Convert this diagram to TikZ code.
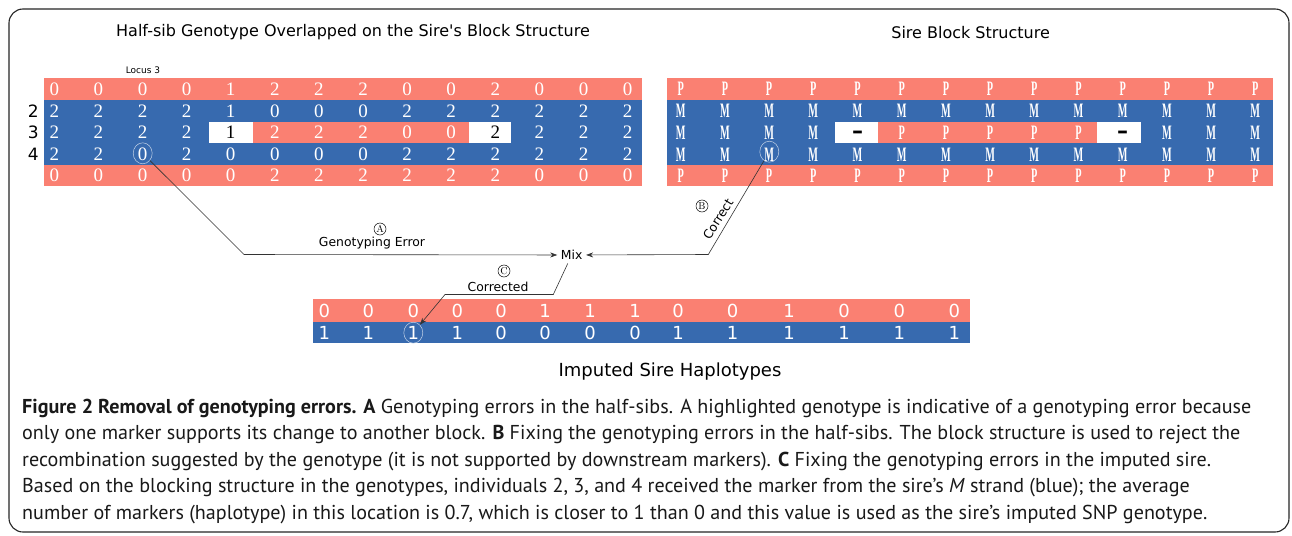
\documentclass[tikz,border=0pt]{standalone}
\usepackage{fontspec}
\newfontfamily\dejavu{DejaVu Sans}
\newfontfamily\capfont{PT Sans}
\newfontfamily\gridfont{Liberation Serif}
\usetikzlibrary{positioning,shapes.geometric,arrows.meta}
\definecolor{salmonred}{RGB}{250,128,114}
\definecolor{blockblue}{RGB}{55,106,175}
\newcommand{\squeeze}[1]{\scalebox{0.5}[1]{\fontsize{20.5}{20.5}\selectfont\bfseries #1}}
\tikzset{
  cell/.style={text=white, inner sep=0pt, font=\gridfont\fontsize{19}{19}\selectfont},
  hapcell/.style={text=white, inner sep=0pt, font=\dejavu\fontsize{18}{18}\selectfont},
  ringed/.style={draw=white!70!blockblue, ellipse, minimum width=19pt, minimum height=21pt, inner sep=0pt, line width=0.5pt},
  tag/.style={circle, draw, line width=0.5pt, minimum size=12pt, inner sep=0pt, font=\fontsize{10}{10}\selectfont},
  lbl/.style={font=\dejavu\fontsize{12.4}{12.4}\selectfont},
  conn/.style={draw=black!80, line width=0.6pt},
  capline/.style={anchor=base west, inner sep=0pt, text=black!90, font=\capfont\fontsize{20.1}{20.1}\selectfont}
}
\begin{document}
\begin{tikzpicture}[x=1pt, y=-1pt]
  \useasboundingbox (0,0) rectangle (1292,535);
  \fill[white] (0,0) rectangle (1292,535);
  \draw[line width=1.1pt, rounded corners=14pt, black!85] (9,9) rectangle (1289,532);

  % titles
  \node[font=\dejavu\fontsize{16}{16}\selectfont] (title-hs) at (353,32) {Half-sib Genotype Overlapped on the Sire\textquotesingle s Block Structure};
  \node[font=\dejavu\fontsize{16}{16}\selectfont] (title-sb) at (970.6,33) {Sire Block Structure};
  \node[font=\dejavu\fontsize{9}{9}\selectfont] (locus) at (143,70.7) {Locus 3};

  % half-sib genotypes on the sire blocks
  \fill[salmonred] (44,78) rectangle (642,100);
  \fill[blockblue] (44,100) rectangle (642,165);
  \fill[salmonred] (44,165) rectangle (642,186);
  \fill[white] (209,122) rectangle (252.5,143.3);
  \fill[salmonred] (252.5,122) rectangle (469,143.3);
  \fill[white] (469,122) rectangle (511,143.3);
  \foreach \lab/\y in {2/111, 3/132.7, 4/154.3}
    \node[font=\dejavu\fontsize{17}{17}\selectfont] (row-\lab) at (33.3,\y) {\lab};
  \foreach \d [count=\i from 0] in {0,0,0,0,1,2,2,2,0,0,2,0,0,0}
    \node[cell] (h1c\i) at (54.3+44.1*\i,89) {\d};
  \foreach \d [count=\i from 0] in {2,2,2,2,1,0,0,0,2,2,2,2,2,2}
    \node[cell] (h2c\i) at (54.3+44.1*\i,111) {\d};
  \foreach \d/\c [count=\i from 0] in {2/white,2/white,2/white,2/white,1/black,2/white,2/white,2/white,0/white,0/white,2/black,2/white,2/white,2/white}
    \node[cell, text=\c] (h3c\i) at (54.3+44.1*\i,132.7) {\d};
  \foreach \d [count=\i from 0] in {2,2,0,2,0,0,0,0,2,2,2,2,2,2}
    \node[cell] (h4c\i) at (54.3+44.1*\i,154.3) {\d};
  \foreach \d [count=\i from 0] in {0,0,0,0,0,2,2,2,2,2,2,0,0,0}
    \node[cell] (h5c\i) at (54.3+44.1*\i,175.5) {\d};
  \node[ringed] (err) at (142.7,153.3) {};

  % sire block structure
  \fill[salmonred] (666.7,77.5) rectangle (1273,100);
  \fill[blockblue] (666.7,100) rectangle (1273,165);
  \fill[salmonred] (666.7,165) rectangle (1273,186);
  \fill[white] (835,122) rectangle (878.3,143.3);
  \fill[salmonred] (878.3,122) rectangle (1097,143.3);
  \fill[white] (1097,122) rectangle (1141,143.3);
  \foreach \i in {0,...,13} {
    \node[cell] (s1c\i) at (680.7+44.2*\i,89) {\squeeze{P}};
    \node[cell] (s2c\i) at (680.7+44.2*\i,111) {\squeeze{M}};
    \node[cell] (s4c\i) at (680.7+44.2*\i,154.3) {\squeeze{M}};
    \node[cell] (s5c\i) at (680.7+44.2*\i,175.5) {\squeeze{P}};
  }
  \foreach \d [count=\i from 0] in {M,M,M,M,,P,P,P,P,P,,M,M,M}
    \node[cell] (s3c\i) at (680.7+44.2*\i,132.7) {\squeeze{\d}};
  \foreach \i in {4,10}
    \node[inner sep=0pt, font=\dejavu\bfseries\fontsize{22}{22}\selectfont] (gap\i) at (680.7+44.2*\i,134.5) {–};
  \node[ringed] (blk) at (769.3,151.7) {};

  % imputed sire haplotypes
  \fill[salmonred] (312.7,299) rectangle (970,321.5);
  \fill[blockblue] (312.7,321.5) rectangle (970,343.3);
  \foreach \x/\t/\b [count=\i from 0] in {324.3/0/1,368.3/0/1,413.3/0/1,457.3/0/1,501/0/0,545/1/0,590/1/0,
      635/1/0,678/0/1,732.7/0/1,789/1/1,844/0/1,899.3/0/1,954.3/0/1} {
    \node[hapcell] (i1c\i) at (\x,310.5) {\t};
    \node[hapcell] (i2c\i) at (\x,332.5) {\b};
  }
  \node[ringed] (fix) at (413.3,332.7) {};
  \node[font=\dejavu\fontsize{18}{18}\selectfont] (title-is) at (670,372) {Imputed Sire Haplotypes};

  % connectors
  \node[lbl, inner sep=3.5pt] (mix) at (571.7,255) {Mix};
  \coordinate (ca) at (244,254.5);
  \coordinate (cb) at (708.3,254.5);
  \coordinate (cc1) at (553.3,294.5);
  \coordinate (cc2) at (445,294.5);
  \draw[conn, -{Stealth[length=7pt,width=5pt]}] (err) -- (ca) -- (mix);
  \draw[conn, -{Stealth[length=7pt,width=5pt]}] (blk) -- (cb) -- (mix);
  \draw[conn, -{Stealth[length=7pt,width=5pt]}] (mix) -- (cc1) -- (cc2) -- (fix);
  \node[tag] (tag-a) at (380,229) {A};
  \node[lbl] (lab-a) at (372,243) {Genotyping Error};
  \node[tag] (tag-b) at (702,206) {B};
  \node[lbl, rotate=58, inner sep=1pt] (lab-b) at (718,219) {Correct};
  \node[tag] (tag-c) at (504,271) {C};
  \node[lbl] (lab-c) at (498,287) {Corrected};

  % caption
  \node[capline] (cap1) at (22,413) {\textbf{Figure 2 Removal of genotyping errors. A} Genotyping errors in the half-sibs. A highlighted genotype is indicative of a genotyping error because};
  \node[capline] (cap2) at (22,439.5) {only one marker supports its change to another block. \textbf{B} Fixing the genotyping errors in the half-sibs. The block structure is used to reject the};
  \node[capline] (cap3) at (22,466) {recombination suggested by the genotype (it is not supported by downstream markers). \textbf{C} Fixing the genotyping errors in the imputed sire.};
  \node[capline] (cap4) at (22,492.5) {Based on the blocking structure in the genotypes, individuals 2, 3, and 4 received the marker from the sire’s \textit{M} strand (blue); the average};
  \node[capline] (cap5) at (22,519) {number of markers (haplotype) in this location is 0.7, which is closer to 1 than 0 and this value is used as the sire’s imputed SNP genotype.};
\end{tikzpicture}
\end{document}
